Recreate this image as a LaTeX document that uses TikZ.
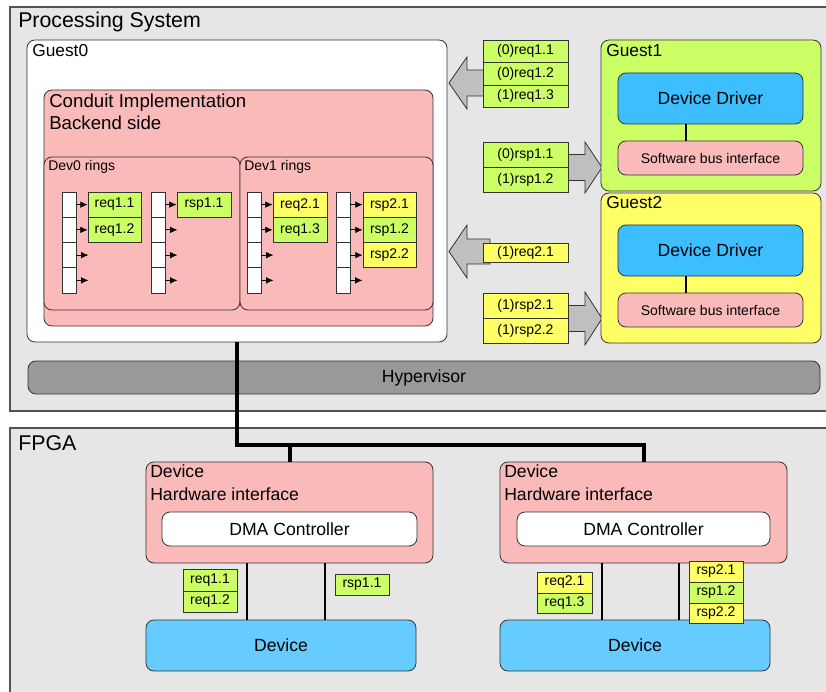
\documentclass[tikz,border=0pt]{standalone}
\usepackage{fontspec}
\setmainfont{Liberation Sans}
\usetikzlibrary{fit,arrows.meta}
\definecolor{bggrey}{HTML}{E6E6E6}
\definecolor{pinkc}{HTML}{FBBABA}
\definecolor{greenc}{HTML}{CCFF66}
\definecolor{yellowc}{HTML}{FFFF66}
\definecolor{ddblue}{HTML}{3CBEFF}
\definecolor{devblue}{HTML}{66CCFF}
\definecolor{hypgrey}{HTML}{999999}
\definecolor{arrgrey}{HTML}{BFBFBF}
\definecolor{edgec}{HTML}{333333}
\newcommand{\FtTitle}{\fontsize{16}{19}\selectfont}
\newcommand{\FtBig}{\fontsize{14}{17}\selectfont}
\newcommand{\FtGuest}{\fontsize{13}{16}\selectfont}
\newcommand{\FtMid}{\fontsize{13.2}{16}\selectfont}
\newcommand{\FtSmall}{\fontsize{10.5}{12.5}\selectfont}
\tikzset{
  area/.style={draw=edgec!85, fill=bggrey, line width=0.9pt, inner sep=0pt},
  rbox/.style={draw=edgec, line width=0.6pt, rounded corners=6pt, inner sep=0pt},
  lbl/.style={draw=edgec, line width=0.6pt, inner sep=0pt},
  cell/.style={draw=edgec, fill=white, line width=0.7pt, inner sep=0pt},
  ptr/.style={-{Latex[length=5.5pt,width=5pt]}, line width=0.7pt},
  wire/.style={line width=1.6pt},
  bus/.style={line width=3pt, line join=miter},
  blk/.style={draw=edgec, fill=arrgrey, line width=0.6pt, line join=miter},
  txt/.style={anchor=base west, inner sep=0pt},
  ts/.style={label={[font=\FtSmall, inner sep=0pt]center:#1}},
  tm/.style={label={[font=\FtMid, inner sep=0pt]center:#1}},
}
\begin{document}
\begin{tikzpicture}[x=0.75pt, y=-0.75pt]
\useasboundingbox (0,0) rectangle (826,692);

% ---------- outer areas ----------
\node[area, fit={(10,7) (840,411)}] (ps) {};
\node[txt, font=\FtTitle] (pslbl) at (18,28) {Processing System};
\node[area, fit={(10,428) (840,710)}] (fpga) {};
\node[txt, font=\FtTitle] (fpgalbl) at (18,450) {FPGA};

% ---------- Guest0 ----------
\node[rbox, fill=white, fit={(27,40) (447,342)}] (g0) {};
\node[txt, font=\FtGuest] (g0lbl) at (32,57) {Guest0};
\node[rbox, fill=pinkc, fit={(44,90) (433,326)}] (ci) {};
\node[txt, font=\FtBig] (cilbl1) at (49,108) {Conduit Implementation};
\node[txt, font=\FtBig] (cilbl2) at (49,130) {Backend side};
\node[rbox, fill=pinkc, fit={(44,157) (240,310)}] (dev0) {};
\node[txt, font=\FtSmall] (dev0lbl) at (48,171) {Dev0 rings};
\node[rbox, fill=pinkc, fit={(240,157) (433,310)}] (dev1) {};
\node[txt, font=\FtSmall] (dev1lbl) at (244,171) {Dev1 rings};

% ring cells
\foreach \c/\x in {a/62, b/151, c/247, d/336}{
  \foreach \i in {0,1,2,3}{
    \node[cell, fit={(\x,{192+25.25*\i}) ({\x+14},{217.25+25.25*\i})}] (\c\i) {};
    \path (\c\i.east) ++(12,0) coordinate (\c\i t);
  }
}
% ring entries
\node[lbl, fill=greenc, ts={req1.1}, fit={(88,192) (141,217.25)}] (e11) {};
\node[lbl, fill=greenc, ts={req1.2}, fit={(88,217.25) (141,242.5)}] (e12) {};
\node[lbl, fill=greenc, ts={rsp1.1}, fit={(177,192) (231,217.25)}] (e13) {};
\node[lbl, fill=yellowc, ts={req2.1}, fit={(273,192) (327,217.25)}] (e21) {};
\node[lbl, fill=greenc, ts={req1.3}, fit={(273,217.25) (327,242.5)}] (e22) {};
\node[lbl, fill=yellowc, ts={rsp2.1}, fit={(363,192) (416,217.25)}] (e31) {};
\node[lbl, fill=greenc, ts={rsp1.2}, fit={(363,217.25) (416,242.5)}] (e32) {};
\node[lbl, fill=yellowc, ts={rsp2.2}, fit={(363,242.5) (416,267.75)}] (e33) {};
% ring pointers
\draw[ptr] (a0.east) -- (e11.west);
\draw[ptr] (a1.east) -- (e12.west);
\draw[ptr] (a2.east) -- (a2t);
\draw[ptr] (a3.east) -- (a3t);
\draw[ptr] (b0.east) -- (e13.west);
\draw[ptr] (b1.east) -- (b1t);
\draw[ptr] (b2.east) -- (b2t);
\draw[ptr] (b3.east) -- (b3t);
\draw[ptr] (c0.east) -- (e21.west);
\draw[ptr] (c1.east) -- (e22.west);
\draw[ptr] (c2.east) -- (c2t);
\draw[ptr] (c3.east) -- (c3t);
\draw[ptr] (d0.east) -- (e31.west);
\draw[ptr] (d1.east) -- (e32.west);
\draw[ptr] (d2.east) -- (e33.west);
\draw[ptr] (d3.east) -- (d3t);

% ---------- block arrows ----------
\draw[blk] (449,83) -- (467,57) -- (467,70) -- (490,70) -- (490,96) -- (467,96) -- (467,109) -- cycle;
\draw[blk] (602,167.5) -- (585,142) -- (585,154.5) -- (560,154.5) -- (560,180.5) -- (585,180.5) -- (585,193) -- cycle;
\draw[blk] (449,251.5) -- (467,225) -- (467,239) -- (490,239) -- (490,264) -- (467,264) -- (467,278) -- cycle;
\draw[blk] (602,318.5) -- (585,292) -- (585,305.5) -- (560,305.5) -- (560,331.5) -- (585,331.5) -- (585,345) -- cycle;

% ---------- message labels ----------
\node[lbl, fill=greenc, ts={(0)req1.1}, fit={(483,40) (568,62.5)}] (m1) {};
\node[lbl, fill=greenc, ts={(0)req1.2}, fit={(483,62.5) (568,85)}] (m2) {};
\node[lbl, fill=greenc, ts={(1)req1.3}, fit={(483,85) (568,107.5)}] (m3) {};
\node[lbl, fill=greenc, ts={(0)rsp1.1}, fit={(483,142) (568,167)}] (m4) {};
\node[lbl, fill=greenc, ts={(1)rsp1.2}, fit={(483,167) (568,192)}] (m5) {};
\node[lbl, fill=yellowc, ts={(1)req2.1}, fit={(483,243) (568,262.5)}] (m6) {};
\node[lbl, fill=yellowc, ts={(1)rsp2.1}, fit={(483,293) (568,318)}] (m7) {};
\node[lbl, fill=yellowc, ts={(1)rsp2.2}, fit={(483,318) (568,343)}] (m8) {};

% ---------- Guest1 / Guest2 ----------
\node[rbox, fill=greenc, fit={(601,40) (821,191)}] (g1) {};
\node[txt, font=\FtGuest] (g1lbl) at (606,57) {Guest1};
\node[rbox, fill=ddblue, tm={Device Driver}, fit={(618,73) (803,124)}] (dd1) {};
\node[rbox, fill=pinkc, ts={Software bus interface}, fit={(618,141) (803,175)}] (sb1) {};
\coordinate (kx) at (686,0);
\draw[wire] (dd1.south -| kx) -- (sb1.north -| kx);

\node[rbox, fill=yellowc, fit={(601,193) (821,343)}] (g2) {};
\node[txt, font=\FtGuest] (g2lbl) at (606,209) {Guest2};
\node[rbox, fill=ddblue, tm={Device Driver}, fit={(618,225) (803,276)}] (dd2) {};
\node[rbox, fill=pinkc, ts={Software bus interface}, fit={(618,293) (803,327)}] (sb2) {};
\draw[wire] (dd2.south -| kx) -- (sb2.north -| kx);

% ---------- Hypervisor ----------
\node[rbox, fill=hypgrey, tm={Hypervisor}, fit={(28,361) (820,394)}] (hyp) {};

% ---------- FPGA content ----------
\node[rbox, fill=pinkc, fit={(146,462) (433,563)}] (hwA) {};
\node[txt, font=\FtMid] (hwAl1) at (150,477) {Device};
\node[txt, font=\FtMid] (hwAl2) at (150,500) {Hardware interface};
\node[rbox, fill=white, tm={DMA Controller}, fit={(162,512) (417,546)}] (dmaA) {};

\node[rbox, fill=pinkc, fit={(500,462) (787,563)}] (hwB) {};
\node[txt, font=\FtMid] (hwBl1) at (504,477) {Device};
\node[txt, font=\FtMid] (hwBl2) at (504,500) {Hardware interface};
\node[rbox, fill=white, tm={DMA Controller}, fit={(517,512) (770,546)}] (dmaB) {};

\node[rbox, fill=devblue, tm={Device}, fit={(146,620) (416,671)}] (devA) {};
\node[rbox, fill=devblue, tm={Device}, fit={(500,620) (770,671)}] (devB) {};

\coordinate (xa1) at (247,0);
\coordinate (xa2) at (325,0);
\coordinate (xb1) at (602,0);
\coordinate (xb2) at (679,0);
\draw[wire] (hwA.south -| xa1) -- (devA.north -| xa1);
\draw[wire] (hwA.south -| xa2) -- (devA.north -| xa2);
\draw[wire] (hwB.south -| xb1) -- (devB.north -| xb1);
\draw[wire] (hwB.south -| xb2) -- (devB.north -| xb2);

\node[lbl, fill=greenc, ts={req1.1}, fit={(183,569) (237,591)}] (f1) {};
\node[lbl, fill=greenc, ts={req1.2}, fit={(183,591) (237,612)}] (f2) {};
\node[lbl, fill=greenc, ts={rsp1.1}, fit={(335,574) (389,595)}] (f3) {};
\node[lbl, fill=yellowc, ts={req2.1}, fit={(537,572) (592,593)}] (f4) {};
\node[lbl, fill=greenc, ts={req1.3}, fit={(537,593) (592,613)}] (f5) {};
\node[lbl, fill=yellowc, ts={rsp2.1}, fit={(689,561) (743,582)}] (f6) {};
\node[lbl, fill=greenc, ts={rsp1.2}, fit={(689,582) (743,603)}] (f7) {};
\node[lbl, fill=yellowc, ts={rsp2.2}, fit={(689,603) (743,623)}] (f8) {};

% ---------- bus ----------
\coordinate (busy) at (0,445);
\draw[bus] (g0.south) -- (g0.south |- busy) -- (hwB.north |- busy) -- (hwB.north);
\draw[bus] (hwA.north |- busy) -- (hwA.north);
\end{tikzpicture}
\end{document}
